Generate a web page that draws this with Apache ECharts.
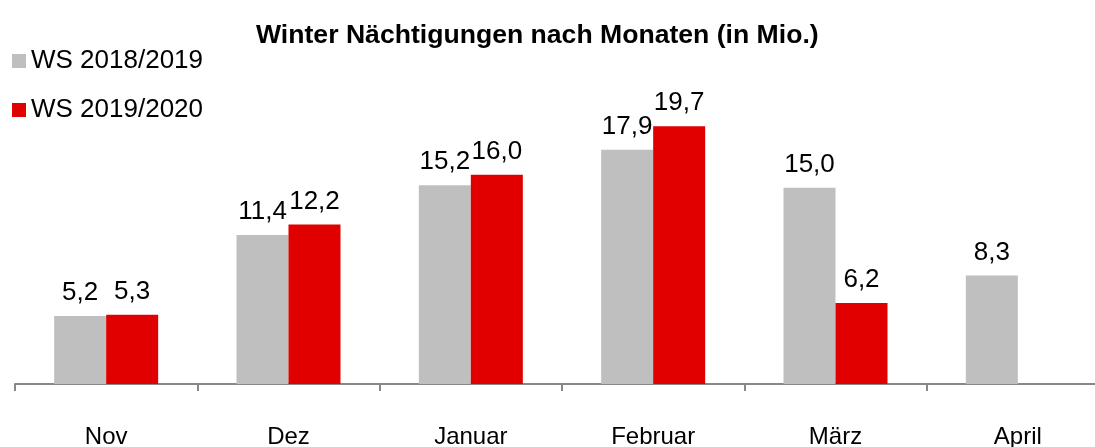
<!DOCTYPE html>
<html>
<head>
<meta charset="utf-8">
<script src="https://cdn.jsdelivr.net/npm/echarts@6/dist/echarts.min.js"></script>
<style>
  html, body { margin: 0; padding: 0; background: #fff; overflow: hidden; }
  /* the plot runs a bit past the right edge of the window, as in the original */
  #chart { width: 1109px; height: 447px; }
</style>
</head>
<body>
<div id="chart"></div>
<script>
const months = ['Nov', 'Dez', 'Januar', 'Februar', 'März', 'April'];
const ws1819 = [5.2, 11.4, 15.2, 17.9, 15.0, 8.3];
const ws1920 = [5.3, 12.2, 16.0, 19.7, 6.2, null];
const seriesNames = ['WS 2018/2019', 'WS 2019/2020'];

const font = 'Liberation Sans, Arial, sans-serif';

// comma as decimal separator
const fmt = (p) => (p.value == null ? '' : p.value.toFixed(1).replace('.', ','));

const valueLabel = {
  show: true,
  position: 'top',
  distance: 10,
  formatter: fmt,
  color: '#000',
  fontFamily: font,
  fontSize: 26,
};

const chart = echarts.init(document.getElementById('chart'));
chart.setOption({
  animation: false,
  title: {
    text: 'Winter Nächtigungen nach Monaten (in Mio.)',
    left: 251,
    top: 17,
    textStyle: { fontFamily: font, fontSize: 26.6, fontWeight: 'bold', color: '#000' },
  },
  legend: {
    orient: 'vertical',
    left: 7,
    top: 43,
    itemWidth: 14,
    itemHeight: 14,
    itemGap: 23,
    itemStyle: { borderWidth: 0 },
    icon: 'rect',
    textStyle: { fontFamily: font, fontSize: 26, color: '#000' },
    data: seriesNames,
  },
  // keep the plot box fixed even though the month labels sit low
  grid: { left: 15, right: 0, top: 57, bottom: 63, containLabel: false, outerBoundsMode: 'none' },
  xAxis: {
    type: 'category',
    data: months,
    axisLine: { lineStyle: { color: '#888', width: 2 } },
    axisTick: { show: true, length: 7, lineStyle: { color: '#888', width: 2 } },
    axisLabel: { margin: 41, color: '#000', fontFamily: font, fontSize: 24 },
  },
  yAxis: {
    type: 'value',
    min: 0,
    max: 25,
    show: false,
    splitLine: { show: false },
  },
  series: [
    {
      name: seriesNames[0],
      type: 'bar',
      data: ws1819,
      barWidth: 52,
      barGap: '0%',
      itemStyle: { color: '#BFBFBF' },
      label: valueLabel,
    },
    {
      name: seriesNames[1],
      type: 'bar',
      data: ws1920,
      barWidth: 52,
      barGap: '0%',
      itemStyle: { color: '#E00000' },
      label: valueLabel,
    },
  ],
});
</script>
</body>
</html>
